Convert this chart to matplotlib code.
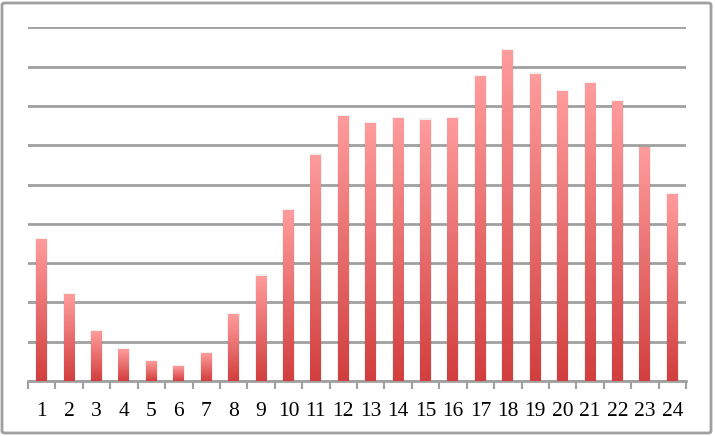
import matplotlib
matplotlib.use("Agg")
import matplotlib.pyplot as plt
import numpy as np
from matplotlib.colors import LinearSegmentedColormap
from matplotlib.patches import FancyBboxPatch

hours = [str(i) for i in range(1, 25)]
values = [3.61, 2.21, 1.25, 0.79, 0.50, 0.37, 0.70, 1.68, 2.67, 4.33, 5.75, 6.72,
          6.54, 6.67, 6.64, 6.69, 7.74, 8.40, 7.81, 7.36, 7.56, 7.12, 5.93, 4.75]

W, H = 715, 436
fig = plt.figure(figsize=(W / 100, H / 100), dpi=100)
ax = fig.add_axes([28 / W, 1 - 381 / H, (686 - 28) / W, (381 - 27.3) / H])

x = np.arange(len(values))
bars = ax.bar(x, values, width=0.4, color="none", zorder=3)

cmap = LinearSegmentedColormap.from_list("g", ["#D23E3E", "#FF9C9C"])
grad = np.linspace(0, 1, 256).reshape(-1, 1)
for b in bars:
    x0, y0 = b.get_x(), b.get_y()
    w, h = b.get_width(), b.get_height()
    # soft shadow
    ax.add_patch(plt.Rectangle((x0 - 0.03, y0), w + 0.06, h + 0.04,
                               color="#000000", alpha=0.06, zorder=2.5, lw=0))
    ax.imshow(grad, cmap=cmap, origin="lower", aspect="auto",
              extent=(x0, x0 + w, y0, y0 + h), zorder=3)

ax.set_xlim(-0.5, len(values) - 0.5)
ax.set_ylim(0, 9)
ax.set_yticks(np.arange(0, 10, 1))
ax.yaxis.grid(True, color="#A0A0A0", lw=2.0, zorder=1)
ax.set_axisbelow(True)
ax.tick_params(axis="y", left=False, labelleft=False)
for s in ["top", "right", "left"]:
    ax.spines[s].set_visible(False)
ax.spines["bottom"].set_color("#A0A0A0")
ax.spines["bottom"].set_linewidth(2.0)

ax.set_xticks(x)
ax.set_xticklabels(hours, fontsize=15.5, family="Liberation Serif")
ax.tick_params(axis="x", length=0, pad=15)
ax.set_xticks(np.arange(-0.5, len(values), 1), minor=True)
ax.tick_params(axis="x", which="minor", length=6, width=1.5, color="#A0A0A0")

border = FancyBboxPatch((2 / W, 3 / H), (711 - 2) / W, (433 - 3) / H,
                        boxstyle="round,pad=0,rounding_size=0.004",
                        transform=fig.transFigure, fill=False,
                        edgecolor="#A0A0A0", lw=2)
fig.patches.append(border)

fig.savefig("out.png", dpi=100)
